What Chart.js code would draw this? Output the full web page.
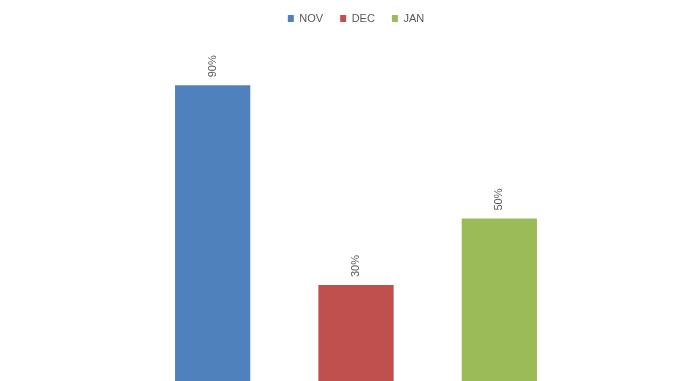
<!DOCTYPE html>
<html>
<head>
<meta charset="utf-8">
<script src="https://cdn.jsdelivr.net/npm/chart.js@4.4.1/dist/chart.umd.min.js"></script>
<style>
  html, body { margin: 0; padding: 0; background: #ffffff; }
  .wrap { width: 692px; height: 381px; overflow: hidden; position: relative; }
  canvas { display: block; }
</style>
</head>
<body>
<div class="wrap">
  <canvas id="monthChart" width="692" height="400"></canvas>
</div>
<script>
const months = ["NOV", "DEC", "JAN"];
const percentValues = [90, 30, 50];
const barColors = ["#4f81bd", "#c0504d", "#9bbb59"];

const labelColor = "#595959";
const fontFamily = "\"Liberation Sans\", Arial, sans-serif";

// value labels, rotated, just above each bar
const rotatedValueLabels = {
  id: "rotatedValueLabels",
  afterDatasetsDraw(chart) {
    const { ctx } = chart;
    const meta = chart.getDatasetMeta(0);
    ctx.save();
    ctx.fillStyle = labelColor;
    ctx.font = `11px ${fontFamily}`;
    ctx.textAlign = "left";
    ctx.textBaseline = "middle";
    meta.data.forEach((bar, i) => {
      ctx.save();
      ctx.translate(bar.x, bar.y - 8);
      ctx.rotate(-Math.PI / 2);
      ctx.fillText(`${percentValues[i]}%`, 0, 0);
      ctx.restore();
    });
    ctx.restore();
  }
};

// give the legend a fixed block height so the plot starts lower
const legendSpacing = {
  id: "legendSpacing",
  beforeInit(chart) {
    const originalFit = chart.legend.fit;
    chart.legend.fit = function fit() {
      originalFit.bind(chart.legend)();
      this.height = 56;
    };
  }
};

new Chart(document.getElementById("monthChart"), {
  type: "bar",
  data: {
    labels: months,
    datasets: [
      {
        label: "Share",
        data: percentValues,
        backgroundColor: barColors,
        borderWidth: 0,
        categoryPercentage: 1,
        barPercentage: 0.525
      }
    ]
  },
  options: {
    responsive: false,
    animation: false,
    layout: {
      padding: { left: 141, right: 121, top: -4, bottom: 15 }
    },
    plugins: {
      legend: {
        display: true,
        position: "top",
        labels: {
          color: labelColor,
          font: { family: fontFamily, size: 11 },
          boxWidth: 6,
          boxHeight: 7,
          padding: 17,
          generateLabels() {
            return months.map((m, i) => ({
              text: m,
              fillStyle: barColors[i],
              strokeStyle: barColors[i],
              lineWidth: 0,
              fontColor: labelColor,
              hidden: false,
              index: i
            }));
          }
        },
        onClick() {}
      },
      tooltip: { enabled: false }
    },
    scales: {
      x: { display: false },
      y: {
        display: false,
        min: 0,
        max: 100
      }
    }
  },
  plugins: [rotatedValueLabels, legendSpacing]
});
</script>
</body>
</html>
